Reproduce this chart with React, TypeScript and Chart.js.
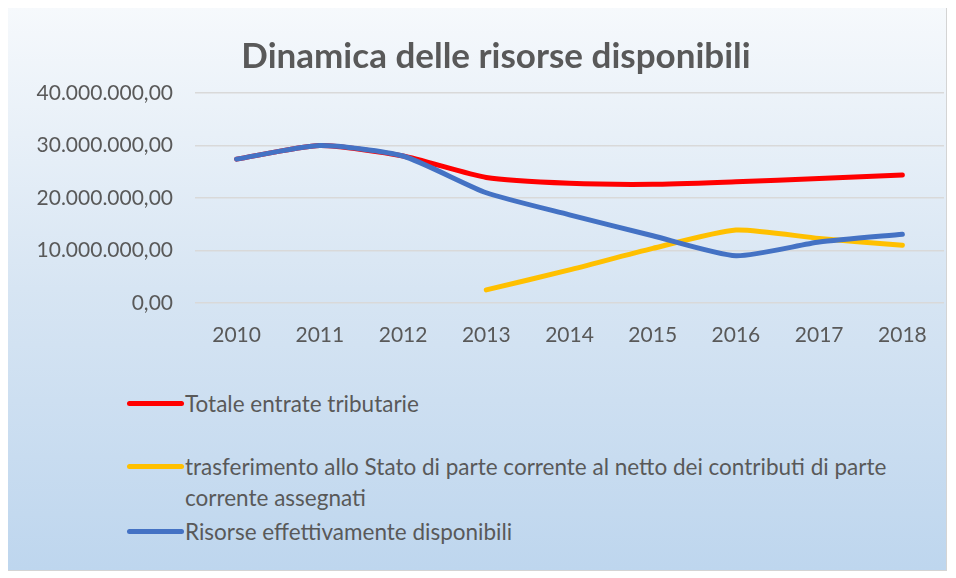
import React, { useEffect, useRef } from 'react';
import { Chart, registerables } from 'chart.js';

Chart.register(...registerables);

const years = ['2010', '2011', '2012', '2013', '2014', '2015', '2016', '2017', '2018'];
const totaleEntrate = [27.4e6, 30.0e6, 28.0e6, 23.9e6, 22.8e6, 22.6e6, 23.1e6, 23.7e6, 24.4e6];
const trasferimento = [null, null, null, 2.5e6, 6.3e6, 10.4e6, 13.9e6, 12.3e6, 11.0e6];
const risorse = [27.4e6, 30.0e6, 28.0e6, 21.0e6, 16.8e6, 12.8e6, 9.0e6, 11.6e6, 13.1e6];
const yMin = 0;
const yMax = 40e6;
const yStep = 10e6;

const seriesLabels: (string | string[])[] = [
  'Totale entrate tributarie',
  ['trasferimento allo Stato di parte corrente al netto dei contributi di parte', 'corrente assegnati'],
  'Risorse effettivamente disponibili',
];
const seriesColors = ['#ff0000', '#ffc000', '#4472c4'];
const title = 'Dinamica delle risorse disponibili';

function fmt(v: number): string {
  const int = Math.round(Math.abs(v)).toString();
  const parts: string[] = [];
  for (let i = int.length; i > 0; i -= 3) parts.unshift(int.slice(Math.max(0, i - 3), i));
  return (v < 0 ? '-' : '') + parts.join('.') + ',00';
}

const FONT = 'Lato, "Open Sans", sans-serif';
const TEXT = '#595959';

export default function App() {
  const ref = useRef<HTMLCanvasElement | null>(null);

  useEffect(() => {
    if (!ref.current) return;
    const data = [totaleEntrate, trasferimento, risorse];
    const chart = new Chart(ref.current, {
      type: 'line',
      data: {
        labels: years,
        datasets: data.map((d, i) => ({
          label: Array.isArray(seriesLabels[i]) ? (seriesLabels[i] as string[]).join(' ') : (seriesLabels[i] as string),
          data: d,
          borderColor: seriesColors[i],
          backgroundColor: seriesColors[i],
          borderWidth: 5,
          pointRadius: 0,
          tension: 0.2,
          borderCapStyle: 'round' as const,
          borderJoinStyle: 'round' as const,
          spanGaps: false,
          order: 2 - i,
        })),
      },
      options: {
        animation: false,
        responsive: false,
        maintainAspectRatio: false,
        layout: { padding: { left: 0, right: 2, top: 86, bottom: 0 } },
        plugins: {
          legend: { display: false },
          tooltip: { enabled: false },
          title: { display: false },
        },
        scales: {
          x: {
            offset: true,
            grid: { display: false },
            border: { display: false },
            ticks: { color: TEXT, font: { family: FONT, size: 21 }, padding: 12, maxRotation: 0 },
            afterFit: (s: any) => { s.height = 64; },
          },
          y: {
            min: yMin,
            max: yMax,
            grid: { color: '#d9d9d9', lineWidth: 1.5, drawTicks: false },
            border: { display: false },
            ticks: {
              stepSize: yStep,
              color: TEXT,
              font: { family: FONT, size: 21 },
              padding: 22,
              callback: (v: any) => fmt(Number(v)),
            },
            afterFit: (s: any) => { s.width = 187; },
          },
        },
      },
    });
    return () => chart.destroy();
  }, []);

  const legendTops = [381, 444, 509];

  return (
    <div
      style={{
        position: 'relative',
        width: 938,
        height: 563,
        margin: '-2px 0 0 -1px',
        border: '1px solid #d4d4d4',
        background: 'linear-gradient(180deg, #f6f9fc 0%, #d7e5f3 50%, #bed6ee 100%)',
        fontFamily: FONT,
        overflow: 'hidden',
      }}
    >
      <canvas ref={ref} width={938} height={360} style={{ position: 'absolute', left: 0, top: 0 }} />
      <div
        style={{
          position: 'absolute',
          left: 488 - 300,
          width: 600,
          top: 26,
          textAlign: 'center',
          fontSize: 35,
          fontWeight: 'bold',
          lineHeight: '42px',
          color: TEXT,
          whiteSpace: 'nowrap',
        }}
      >
        {title}
      </div>
      {seriesLabels.map((lab, i) => (
        <div
          key={i}
          style={{
            position: 'absolute',
            left: 119,
            top: legendTops[i],
            display: 'flex',
            alignItems: 'flex-start',
            color: TEXT,
            fontSize: 22.5,
            lineHeight: '31px',
          }}
        >
          <div
            style={{
              width: 57,
              height: 5,
              marginTop: 13,
              borderRadius: 3,
              background: seriesColors[i],
              flex: '0 0 auto',
            }}
          />
          <div style={{ marginLeft: 1, whiteSpace: 'nowrap' }}>
            {Array.isArray(lab) ? lab.map((l, j) => <div key={j}>{l}</div>) : lab}
          </div>
        </div>
      ))}
    </div>
  );
}
